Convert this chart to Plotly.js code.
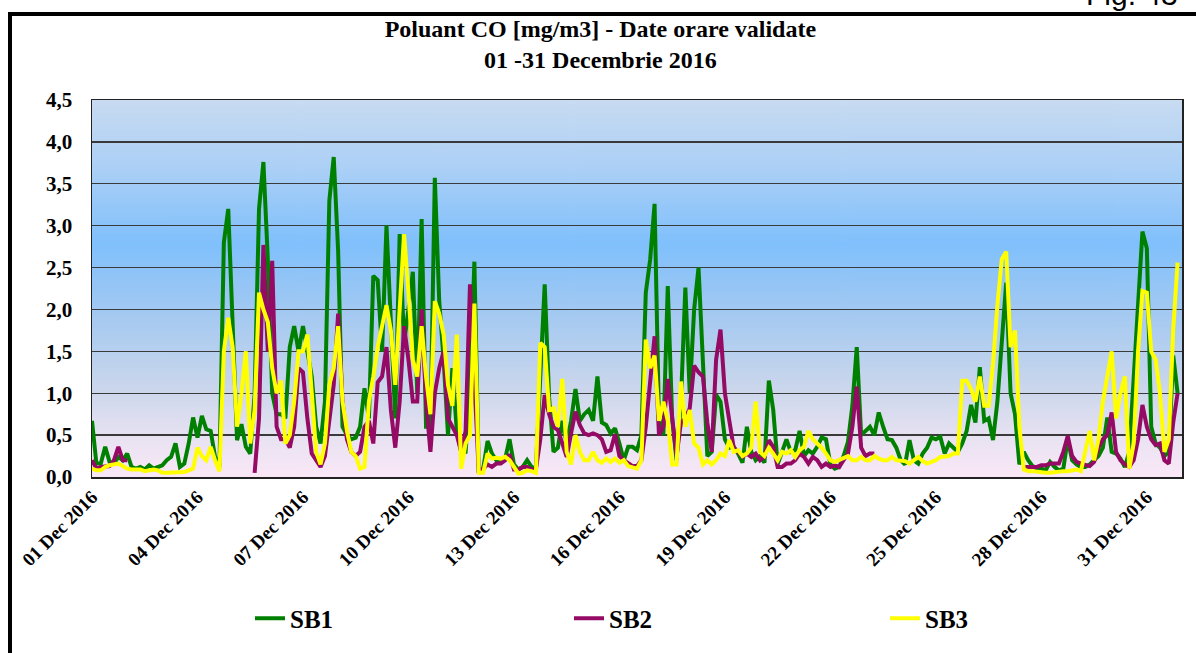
<!DOCTYPE html>
<html><head><meta charset="utf-8">
<script src="https://cdn.plot.ly/plotly-3.0.1.min.js"></script>
<style>html,body{margin:0;padding:0;background:#fff;}#chart{width:1196px;height:653px;}</style>
</head><body><div id="chart"></div>
<script>
// ---- data (CO mg/m3, 3-hour readings) ----
const seriesNames = ['SB1', 'SB2', 'SB3'];
const startDate = Date.UTC(2016, 11, 1, 0, 0);
const stepHours = 3;
const sb1 = [
0.67,0.16,0.16,0.36,0.18,0.16,0.24,0.2,
0.28,0.12,0.1,0.12,0.09,0.14,0.1,0.12,
0.14,0.2,0.24,0.4,0.12,0.16,0.4,0.71,
0.47,0.73,0.57,0.55,0.24,0.12,2.8,3.2,
1.9,0.44,0.63,0.36,0.28,0.98,3.2,3.76,
2.6,1.0,0.75,0.75,0.7,1.55,1.8,1.5,
1.8,1.5,1.2,0.6,0.4,0.9,3.3,3.82,
2.7,0.6,0.5,0.45,0.47,0.6,1.06,0.7,
2.4,2.35,1.5,3.0,1.8,0.7,2.9,1.6,
2.0,2.45,1.0,3.08,0.6,0.6,3.57,2.1,
1.4,0.5,1.3,0.55,0.3,0.3,1.0,2.57,
0.05,0.1,0.43,0.28,0.2,0.17,0.22,0.45,
0.15,0.09,0.12,0.2,0.12,0.1,1.2,2.3,
0.95,0.3,0.35,0.67,0.4,0.67,1.05,0.67,
0.75,0.8,0.67,1.2,0.65,0.62,0.52,0.58,
0.4,0.2,0.36,0.36,0.32,0.5,2.2,2.6,
3.26,0.7,0.5,2.28,0.7,0.2,0.9,2.26,
1.0,2.0,2.5,1.4,0.25,0.3,0.98,0.9,
0.45,0.35,0.36,0.28,0.17,0.6,0.3,0.2,
0.25,0.17,1.15,0.8,0.15,0.3,0.45,0.3,
0.32,0.55,0.25,0.32,0.28,0.36,0.47,0.45,
0.15,0.1,0.12,0.25,0.42,0.85,1.55,0.5,
0.55,0.6,0.5,0.77,0.6,0.45,0.44,0.35,
0.2,0.15,0.44,0.2,0.16,0.28,0.35,0.47,
0.45,0.48,0.28,0.4,0.35,0.3,0.4,0.55,
0.86,0.65,1.31,0.67,0.7,0.44,0.9,1.6,
2.32,1.0,0.75,0.15,0.3,0.2,0.13,0.1,
0.1,0.08,0.18,0.12,0.08,0.1,0.45,0.2,
0.15,0.12,0.12,0.15,0.2,0.25,0.35,0.71,
0.3,0.28,0.22,0.12,0.3,1.2,2.2,2.93,
2.73,0.6,0.4,0.35,0.25,0.3,1.45,1.0
];
const sb2 = [
0.2,0.1,0.12,0.13,0.13,0.2,0.36,0.2,
0.2,null,null,null,null,null,null,null,
null,null,null,null,null,null,null,null,
null,null,null,null,null,null,null,null,
null,null,null,null,null,0.05,0.7,2.77,
1.5,2.58,0.6,0.45,0.45,0.35,0.6,1.3,
1.25,0.7,0.28,0.2,0.12,0.25,0.7,1.1,
1.95,0.9,0.45,0.3,0.25,0.3,0.6,0.67,
0.4,1.13,1.2,1.55,0.8,0.35,0.9,1.8,
1.4,0.9,0.9,2.0,0.9,0.3,1.0,1.3,
1.5,0.7,0.6,0.5,0.3,0.55,2.3,1.2,
0.05,0.1,0.15,0.12,0.16,0.16,0.2,0.27,
0.09,0.09,0.12,0.12,0.09,0.09,0.45,0.98,
0.75,0.6,0.56,0.4,0.24,0.52,0.78,0.62,
0.52,0.5,0.52,0.5,0.45,0.3,0.32,0.51,
0.25,0.2,0.16,0.13,0.13,0.2,0.6,1.2,
1.68,0.5,0.6,1.17,0.7,0.25,0.65,0.7,
0.82,1.33,1.25,1.2,0.65,0.3,1.4,1.76,
1.0,0.7,0.35,0.3,0.24,0.28,0.24,0.28,
0.2,0.24,0.44,0.36,0.12,0.12,0.16,0.16,
0.2,0.28,0.24,0.16,0.24,0.2,0.12,0.16,
0.12,0.14,0.12,0.2,0.28,0.6,1.08,0.35,
0.25,0.28,0.28,null,null,null,null,null,
null,null,null,null,null,null,null,null,
null,null,null,null,null,null,null,null,
null,null,null,null,null,null,null,null,
null,null,null,null,0.12,0.12,0.12,0.12,
0.14,0.14,0.16,0.16,0.16,0.3,0.49,0.25,
0.18,0.16,0.15,0.13,0.18,0.35,0.45,0.5,
0.77,0.3,0.2,0.15,0.12,0.2,0.45,0.86,
0.6,0.45,0.38,0.4,0.2,0.16,0.65,1.0
];
const sb3 = [
0.1,0.08,0.08,0.12,0.14,0.15,0.16,0.13,
0.1,0.09,0.09,0.09,0.07,0.08,0.09,0.08,
0.05,0.05,0.05,0.05,0.05,0.06,0.08,0.1,
0.35,0.25,0.2,0.36,0.2,0.07,1.5,1.9,
1.55,0.6,1.0,1.5,0.4,0.8,2.2,2.0,
1.85,1.3,1.0,1.15,0.4,0.5,0.9,1.5,
1.5,1.7,1.0,0.3,0.15,0.4,1.1,1.3,
1.8,0.9,0.55,0.3,0.25,0.1,0.12,0.9,
1.2,1.55,1.8,2.05,1.75,1.1,2.0,2.9,
2.2,1.4,1.2,1.8,1.2,0.75,2.1,1.95,
1.7,1.1,0.85,1.7,0.1,0.4,0.5,2.07,
0.05,0.05,0.28,0.22,0.23,0.22,0.24,0.2,
0.12,0.04,0.05,0.08,0.07,0.05,1.6,1.55,
0.8,0.82,0.6,1.17,0.3,0.15,0.5,0.3,
0.2,0.2,0.3,0.2,0.17,0.22,0.18,0.22,
0.17,0.2,0.13,0.12,0.1,0.2,1.64,1.3,
1.45,0.67,0.9,0.67,0.15,0.15,1.14,0.6,
0.8,0.4,0.35,0.15,0.2,0.15,0.2,0.28,
0.25,0.44,0.3,0.32,0.25,0.28,0.35,0.9,
0.3,0.25,0.35,0.28,0.2,0.3,0.28,0.32,
0.24,0.32,0.36,0.55,0.45,0.4,0.35,0.28,
0.2,0.18,0.2,0.22,0.25,0.2,0.2,0.24,
0.2,0.2,0.25,0.22,0.2,0.2,0.24,0.2,
0.19,0.19,0.16,0.2,0.24,0.19,0.16,0.18,
0.2,0.24,0.24,0.25,0.28,0.28,1.15,1.15,
1.05,0.9,1.2,0.85,0.85,1.35,2.05,2.6,
2.69,1.55,1.75,0.6,0.09,0.07,0.07,0.06,
0.05,0.05,0.05,0.06,0.07,0.07,0.07,0.08,
0.09,0.07,0.3,0.55,0.2,0.45,0.9,1.2,
1.5,0.7,1.0,1.2,0.1,0.4,1.5,2.22,
2.2,1.5,1.4,1.0,0.3,0.45,1.76,2.56
];
const tickDates = ['2016-12-01','2016-12-04','2016-12-07','2016-12-10','2016-12-13','2016-12-16',
                   '2016-12-19','2016-12-22','2016-12-25','2016-12-28','2016-12-31'];
const yTicks = [0, 0.5, 1, 1.5, 2, 2.5, 3, 3.5, 4, 4.5];
const titleLines = ['Poluant CO [mg/m3] - Date orare validate', '01 -31 Decembrie 2016'];
const figureLabel = 'Fig. 43';

// ---- build ----
function pad(n){ return String(n).padStart(2,'0'); }
function stamp(ms){ const d = new Date(ms);
  return d.getUTCFullYear()+'-'+pad(d.getUTCMonth()+1)+'-'+pad(d.getUTCDate())+' '+pad(d.getUTCHours())+':'+pad(d.getUTCMinutes()); }
const xs = sb1.map((_, i) => stamp(startDate + i * stepHours * 3600e3));

const colors = ['#008000', '#940A64', '#FFFF00'];
const values = [sb1, sb2, sb3];
const legendIds = ['legend', 'legend2', 'legend3'];
const traces = values.map((v, k) => ({
  type: 'scatter', mode: 'lines', name: seriesNames[k], x: xs, y: v, legend: legendIds[k],
  line: {color: colors[k], width: 4, shape: 'linear'}, connectgaps: false, hoverinfo: 'skip'
}));

// plot area in pixels
const W = 1196, H = 653, L = 92, R = 1182, T = 100, B = 486;
const px = p => (p - L) / (R - L);
const py = p => (B - p) / (B - T);

// gradient background for plot area
const cv = document.createElement('canvas'); cv.width = 8; cv.height = 386;
const cx = cv.getContext('2d');
const g = cx.createLinearGradient(0, 0, 0, 386);
g.addColorStop(0.00, '#C8DBF1');
g.addColorStop(0.18, '#ACD0F6');
g.addColorStop(0.38, '#80C0FC');
g.addColorStop(0.58, '#A6CAF1');
g.addColorStop(0.77, '#CCD7EC');
g.addColorStop(0.89, '#E7E2F2');
g.addColorStop(1.00, '#FBE8F7');
cx.fillStyle = g; cx.fillRect(0, 0, 8, 386);
const bgURL = cv.toDataURL('image/png');

const serif = 'Liberation Serif, Times New Roman, serif';
const legendFont = {family: serif, size: 25, color: '#000', weight: 'bold'};
const legendX = [250, 569, 885];
function legendAt(i){
  return {orientation: 'h', x: px(legendX[i]), xanchor: 'left', y: py(631), yanchor: 'middle',
          itemwidth: 30, font: legendFont, bgcolor: 'rgba(0,0,0,0)', borderwidth: 0};
}
const layout = {
  width: W, height: H,
  margin: {l: L, r: W - R, t: T, b: H - B, pad: 0},
  paper_bgcolor: '#ffffff', plot_bgcolor: 'rgba(0,0,0,0)',
  separators: ', ',
  showlegend: true,
  title: {text: titleLines.join('<br>'), font: {family: serif, size: 24, color: '#000', weight: 'bold'},
          x: 0.502, xref: 'container', xanchor: 'center', y: 1 - 37 / H, yref: 'container', yanchor: 'middle'},
  xaxis: {type: 'date', range: ['2016-12-01 00:00', '2017-01-01 00:00'], tickmode: 'array', tickvals: tickDates,
          tickformat: '%d %b %Y', tickangle: -45, ticks: '', showgrid: false, zeroline: false,
          showline: true, mirror: true, linecolor: '#222', linewidth: 1.5,
          tickfont: {family: serif, size: 19, color: '#000', weight: 'bold'}},
  yaxis: {range: [0, 4.5], tickmode: 'array', tickvals: yTicks, tickformat: '.1f', ticks: '',
          ticklabelstandoff: 14,
          showgrid: true, gridcolor: '#3a3a3a', gridwidth: 1.3, zeroline: false,
          showline: true, mirror: true, linecolor: '#222', linewidth: 1.5,
          tickfont: {family: serif, size: 21, color: '#000', weight: 'bold'}},
  legend: legendAt(0), legend2: legendAt(1), legend3: legendAt(2),
  images: [{source: bgURL, xref: 'paper', yref: 'paper', x: 0, y: 1, sizex: 1, sizey: 1,
            sizing: 'stretch', layer: 'below', xanchor: 'left', yanchor: 'top'}],
  shapes: [
    {type: 'line', xref: 'paper', yref: 'paper', x0: px(10), x1: px(10), y0: py(10), y1: py(700), line: {color: '#000', width: 4}},
    {type: 'line', xref: 'paper', yref: 'paper', x0: px(8), x1: px(1200), y0: py(12), y1: py(12), line: {color: '#000', width: 4}}
  ],
  annotations: [
    {text: figureLabel, xref: 'paper', yref: 'paper', x: px(1180), y: py(11), xanchor: 'right', yanchor: 'bottom',
     showarrow: false, font: {family: 'Liberation Sans, Arial, sans-serif', size: 30, color: '#000'}}
  ]
};
Plotly.newPlot('chart', traces, layout, {displayModeBar: false, staticPlot: true});
</script>
</body></html>
